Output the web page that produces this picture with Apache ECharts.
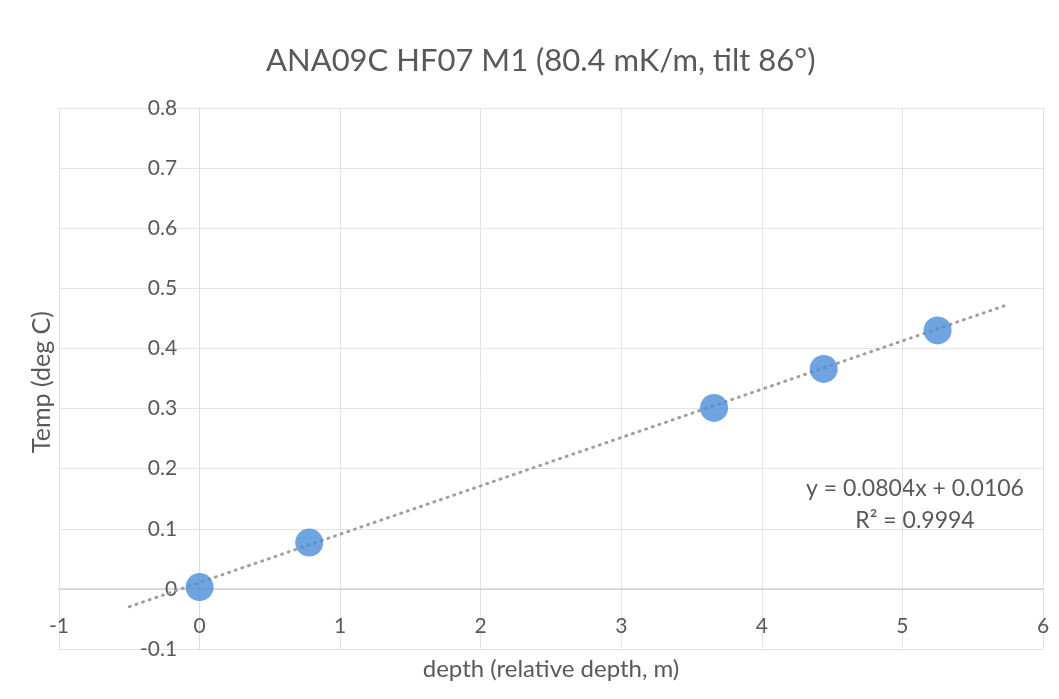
<!DOCTYPE html>
<html>
<head>
<meta charset="utf-8">
<script src="https://cdn.jsdelivr.net/npm/echarts@6/dist/echarts.min.js"></script>
<style>
  html, body { margin: 0; padding: 0; background: #ffffff; }
  #chart { width: 1059px; height: 699px; }
</style>
</head>
<body>
<div id="chart"></div>
<script>
// Measured temperature vs. relative depth
const depths = [0.0, 0.78, 3.66, 4.44, 5.25];
const temps = [0.003, 0.077, 0.301, 0.366, 0.430];

// Linear fit reported for the series
const fitSlope = 0.0804;
const fitIntercept = 0.0106;
const fitR2 = 0.9994;
const fitRange = [-0.5, 5.75];

const titleText = 'ANA09C HF07 M1 (80.4 mK/m, tilt 86°)';
const xAxisTitle = 'depth (relative depth, m)';
const yAxisTitle = 'Temp (deg C)';

const FONT = 'Lato, "Open Sans", sans-serif';
const TEXT = '#595959';
const GRID = '#e3e3e3';

const points = depths.map((d, i) => [d, temps[i]]);
const trend = fitRange.map(x => [x, fitSlope * x + fitIntercept]);

const chart = echarts.init(document.getElementById('chart'), null, { renderer: 'canvas' });

chart.setOption({
  backgroundColor: '#ffffff',
  animation: false,
  title: {
    text: titleText,
    left: 261,
    top: 40,
    textStyle: { fontFamily: FONT, fontSize: 31, fontWeight: 'normal', color: TEXT }
  },
  grid: { left: 59, right: 16, top: 108, bottom: 50, containLabel: false },
  xAxis: {
    type: 'value',
    min: -1, max: 6, interval: 1,
    axisLine: { onZero: false, lineStyle: { color: '#d2d2d2', width: 1.5 } },
    axisTick: { show: false },
    axisLabel: { fontFamily: FONT, fontSize: 21, color: TEXT, margin: 27 },
    splitLine: { show: true, lineStyle: { color: GRID, width: 1 } }
  },
  yAxis: {
    type: 'value',
    min: -0.1, max: 0.8, interval: 0.1,
    axisLine: { show: true, onZero: false, lineStyle: { color: '#dcdcdc', width: 1 } },
    axisTick: { show: false },
    axisLabel: {
      fontFamily: FONT, fontSize: 21, color: TEXT, margin: 22,
      formatter: v => (Math.round(v * 10) / 10).toString()
    },
    splitLine: { show: true, lineStyle: { color: GRID, width: 1 } }
  },
  graphic: [
    {
      type: 'text', x: 551, y: 669,
      style: { text: xAxisTitle, font: '24px ' + FONT, fill: TEXT, align: 'center', verticalAlign: 'middle' }
    },
    {
      type: 'text', x: 42, y: 382, rotation: Math.PI / 2,
      style: { text: yAxisTitle, font: '25px ' + FONT, fill: TEXT, align: 'center', verticalAlign: 'middle' }
    },
    {
      type: 'text', x: 915, y: 489,
      style: { text: 'y = ' + fitSlope + 'x + ' + fitIntercept, font: '23px ' + FONT, fill: TEXT, align: 'center', verticalAlign: 'middle' }
    },
    {
      type: 'text', x: 915, y: 521,
      style: { text: 'R² = ' + fitR2, font: '23px ' + FONT, fill: TEXT, align: 'center', verticalAlign: 'middle' }
    }
  ],
  series: [
    {
      type: 'line',
      data: trend,
      symbol: 'none',
      lineStyle: { color: '#a0a0a0', width: 3, type: [1, 6], cap: 'round' },
      z: 2
    },
    {
      type: 'scatter',
      data: points,
      symbol: 'circle',
      symbolSize: 28,
      itemStyle: { color: '#4a8fd8' },
      z: 3
    }
  ]
});

// Cross the axes at zero: shift each axis from the grid edge onto the other axis's zero.
const origin = chart.convertToPixel({ gridIndex: 0 }, [0, 0]);
const gridRect = chart.getModel().getComponent('grid', 0).coordinateSystem.getRect();
chart.setOption({
  xAxis: { offset: -(gridRect.y + gridRect.height - origin[1]) },
  yAxis: { offset: -(origin[0] - gridRect.x) }
});
</script>
</body>
</html>
